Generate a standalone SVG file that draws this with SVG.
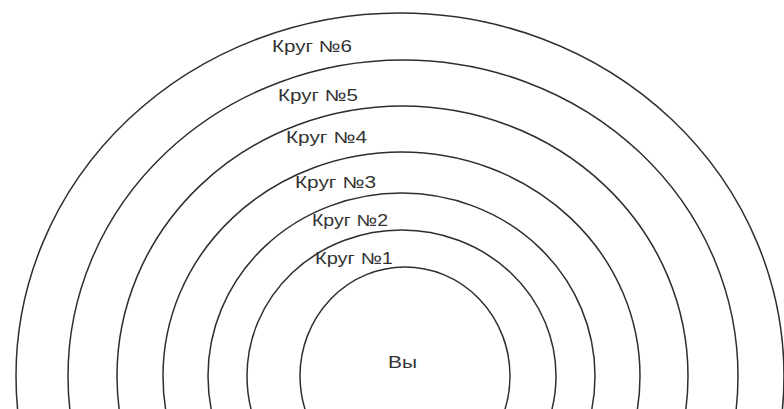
<svg xmlns="http://www.w3.org/2000/svg" width="784" height="409" viewBox="0 0 784 409">
<style>
.ring{fill:none;stroke:#2e2e2e;stroke-width:1.5}
.lbl{font-family:"Liberation Sans","DejaVu Sans",sans-serif;font-size:16px;fill:#333}
</style>
<rect width="784" height="409" fill="#ffffff"/>
<g id="circle6">
<ellipse class="ring" cx="400" cy="376" rx="384" ry="363"/>
<text class="lbl" x="272" y="52" textLength="80" lengthAdjust="spacingAndGlyphs">Круг №6</text>
</g>
<g id="circle5">
<ellipse class="ring" cx="403" cy="376" rx="335" ry="316"/>
<text class="lbl" x="278" y="101" textLength="80" lengthAdjust="spacingAndGlyphs">Круг №5</text>
</g>
<g id="circle4">
<ellipse class="ring" cx="402.5" cy="376" rx="285.5" ry="270"/>
<text class="lbl" x="286" y="143" textLength="81" lengthAdjust="spacingAndGlyphs">Круг №4</text>
</g>
<g id="circle3">
<ellipse class="ring" cx="401.5" cy="376" rx="238.5" ry="224"/>
<text class="lbl" x="295" y="188" textLength="81" lengthAdjust="spacingAndGlyphs">Круг №3</text>
</g>
<g id="circle2">
<ellipse class="ring" cx="401.5" cy="376" rx="193.5" ry="183"/>
<text class="lbl" x="312" y="226" textLength="76" lengthAdjust="spacingAndGlyphs">Круг №2</text>
</g>
<g id="circle1">
<ellipse class="ring" cx="401.5" cy="376" rx="154.5" ry="146"/>
<text class="lbl" x="315" y="264" textLength="78" lengthAdjust="spacingAndGlyphs">Круг №1</text>
</g>
<g id="you">
<ellipse class="ring" cx="405" cy="376" rx="105" ry="109"/>
<text class="lbl" x="388" y="368" textLength="29" lengthAdjust="spacingAndGlyphs">Вы</text>
</g>
</svg>
